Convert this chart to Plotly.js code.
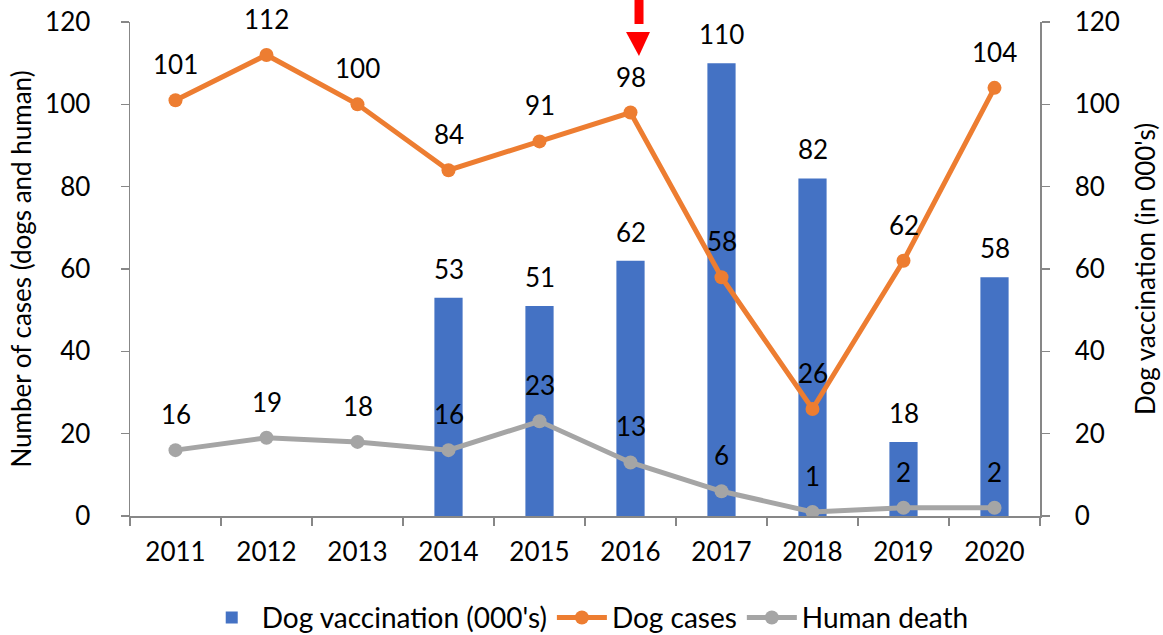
<!DOCTYPE html>
<html>
<head>
<meta charset="utf-8">
<script src="https://cdn.plot.ly/plotly-3.0.1.min.js"></script>
<style>html,body{margin:0;padding:0;background:#fff;}#chart{width:1163px;height:635px;}</style>
</head>
<body>
<div id="chart"></div>
<script>
const years = ['2011','2012','2013','2014','2015','2016','2017','2018','2019','2020'];
const dogVaccination = [null,null,null,53,51,62,110,82,18,58];
const dogCases = [101,112,100,84,91,98,58,26,62,104];
const humanDeath = [16,19,18,16,23,13,6,1,2,2];

const FONT = 'Lato, "Open Sans", sans-serif';
const FS = 26;
const BLUE = '#4472C4', ORANGE = '#ED7D31', GRAY = '#A5A5A5', AXIS = '#878787';

const traces = [
  {type:'bar', name:"Dog vaccination (000's)", x:years, y:dogVaccination, yaxis:'y',
   marker:{color:BLUE}, width:0.31},
  {type:'scatter', mode:'lines+markers', name:'Dog cases', x:years, y:dogCases, yaxis:'y2',
   line:{color:ORANGE, width:5}, marker:{color:ORANGE, size:14}},
  {type:'scatter', mode:'lines+markers', name:'Human death', x:years, y:humanDeath, yaxis:'y2',
   line:{color:GRAY, width:5}, marker:{color:GRAY, size:14}}
];

const labelFont = {family:FONT, size:FS, color:'#000'};
const annotations = [];
years.forEach((yr,i)=>{
  if (dogVaccination[i] !== null) annotations.push({x:i, y:dogVaccination[i], xref:'x', yref:'y', text:String(dogVaccination[i]), showarrow:false, yshift:29, font:labelFont});
  annotations.push({x:i, y:dogCases[i], xref:'x', yref:'y2', text:String(dogCases[i]), showarrow:false, yshift:36, font:labelFont});
  annotations.push({x:i, y:humanDeath[i], xref:'x', yref:'y2', text:String(humanDeath[i]), showarrow:false, yshift:36, font:labelFont});
});

const layout = {
  width:1163, height:635,
  margin:{l:130, r:123, t:22, b:119},
  paper_bgcolor:'#fff', plot_bgcolor:'#fff',
  font:{family:FONT, size:FS, color:'#000'},
  showlegend:true,
  legend:{orientation:'h', x:0.503, xanchor:'center', yref:'container', y:0.027, yanchor:'middle',
    font:{family:FONT, size:28, color:'#000'}, traceorder:'normal', itemwidth:50},
  xaxis:{type:'category', range:[-0.5, 9.5], autorange:false, showgrid:false, showline:true, linecolor:AXIS, linewidth:1.5,
    ticks:'outside', ticklen:8, tickcolor:AXIS, tickwidth:1.5, tickson:'boundaries', tickangle:0,
    ticklabelstandoff:12, tickfont:labelFont},
  yaxis:{range:[0,120], autorange:false, side:'right', dtick:20, showgrid:false, zeroline:false, showline:true, linecolor:AXIS, linewidth:1.5,
    ticks:'outside', ticklen:8, tickcolor:AXIS, tickwidth:1.5, ticklabelstandoff:20,
    tickfont:labelFont,
    title:{text:"Dog vaccination (in 000's)", font:labelFont, standoff:18}},
  yaxis2:{range:[0,120], autorange:false, overlaying:'y', side:'left', dtick:20, showgrid:false, zeroline:false, showline:true, linecolor:AXIS, linewidth:1.5,
    ticks:'outside', ticklen:8, tickcolor:AXIS, tickwidth:1.5, ticklabelstandoff:25,
    tickfont:labelFont,
    title:{text:'Number of cases (dogs and human)', font:labelFont, standoff:6}},
  annotations: annotations,
  shapes:[
    {type:'rect', xref:'paper', yref:'paper', x0:0.5544, x1:0.5643, y0:0.996, y1:1.0445, fillcolor:'#FF0000', line:{width:0}},
    {type:'path', xref:'paper', yref:'paper', path:'M 0.5451 0.9798 L 0.5714 0.9798 L 0.5593 0.9312 Z', fillcolor:'#FF0000', line:{width:0}}
  ]
};

Plotly.newPlot('chart', traces, layout, {displayModeBar:false, staticPlot:true});
</script>
</body>
</html>
